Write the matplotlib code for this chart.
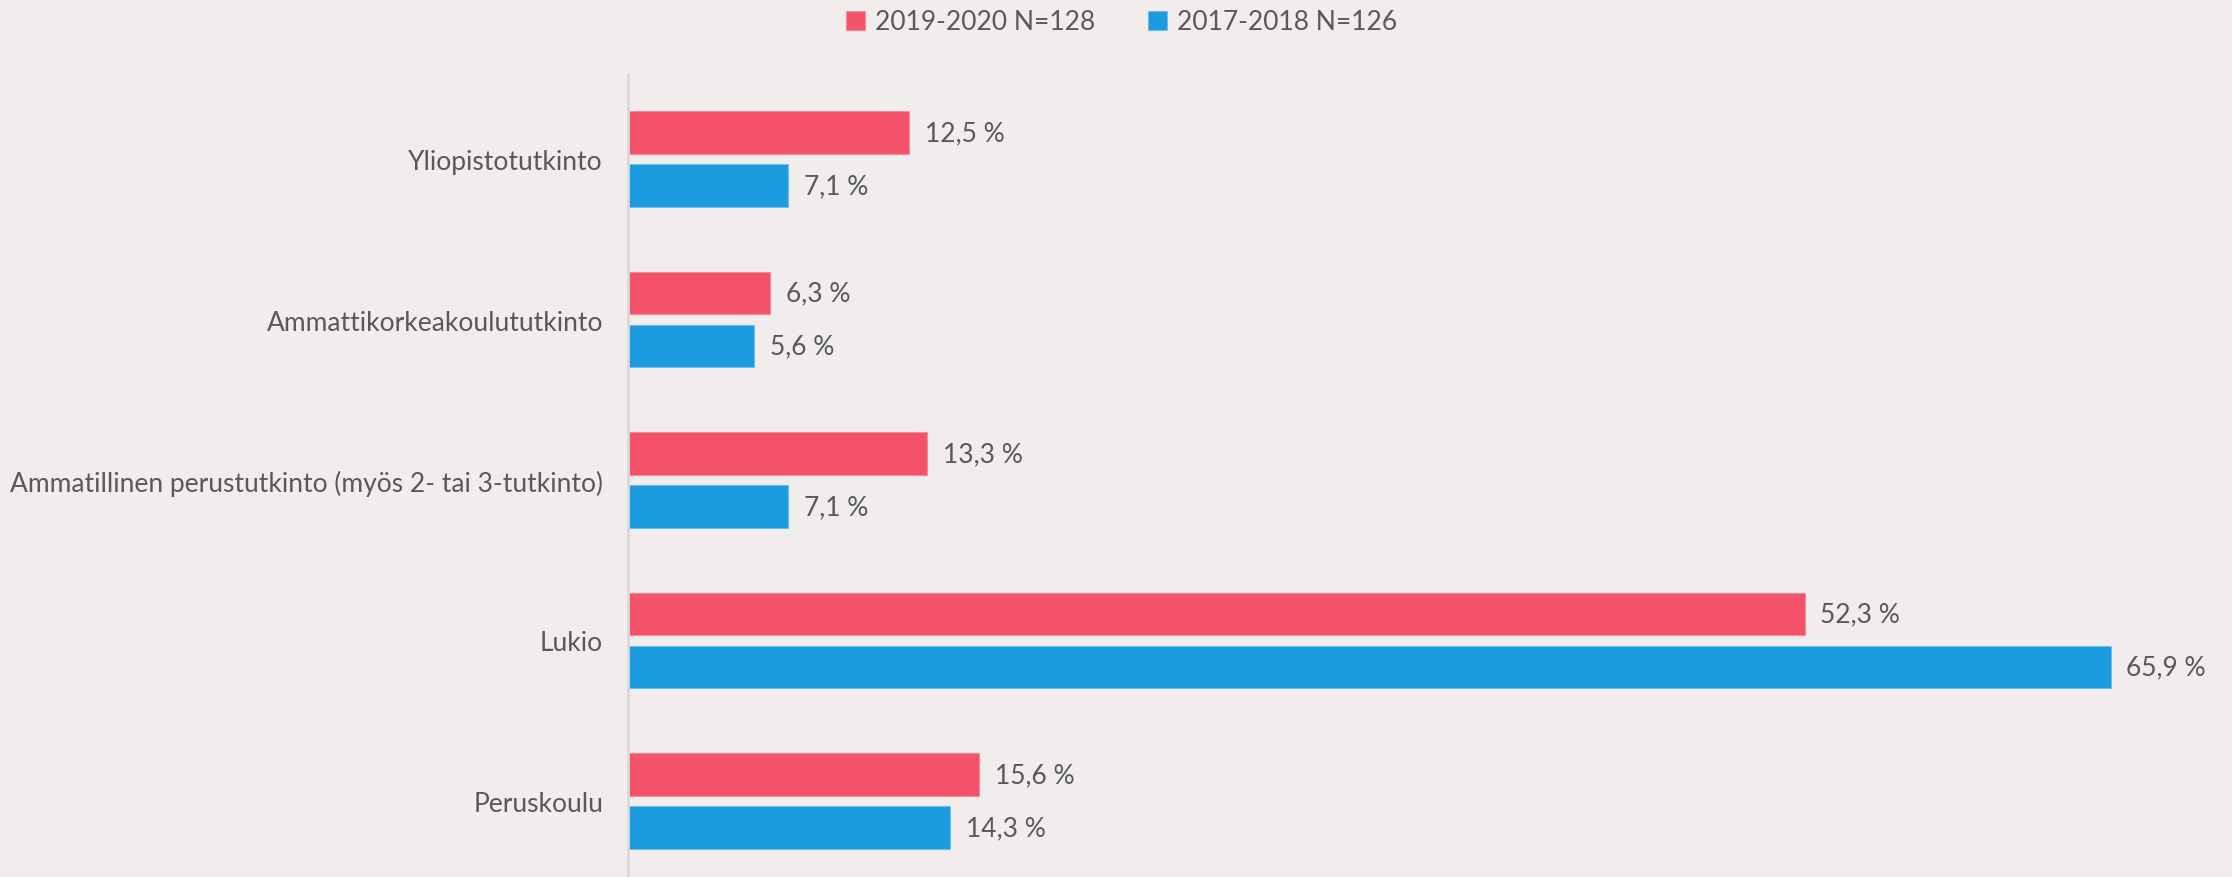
import matplotlib.pyplot as plt
import numpy as np

plt.rcParams['font.family'] = ['Lato', 'DejaVu Sans']

categories = ["Yliopistotutkinto", "Ammattikorkeakoulututkinto",
              "Ammatillinen perustutkinto (myös 2- tai 3-tutkinto)",
              "Lukio", "Peruskoulu"]
vals_2019 = [12.5, 6.3, 13.3, 52.3, 15.6]
vals_2017 = [7.1, 5.6, 7.1, 65.9, 14.3]
labels = ["2019-2020 N=128", "2017-2018 N=126"]

red = "#F4526A"
blue = "#1A9BDF"
bg = "#F0EDEC"
txt = "#595959"

fig = plt.figure(figsize=(22.32, 8.78), dpi=100, facecolor=bg)
ax = fig.add_axes([628 / 2232, 0, 1575 / 2232, (878 - 75) / 878], facecolor=bg)

y = np.arange(len(categories))
h = 0.265
off = 0.165
b1 = ax.barh(y - off, vals_2019, height=h, color=red, edgecolor="#F7889A", linewidth=0.8, label=labels[0])
b2 = ax.barh(y + off, vals_2017, height=h, color=blue, edgecolor="#6CBDE9", linewidth=0.8, label=labels[1])

for bars, vals in ((b1, vals_2019), (b2, vals_2017)):
    for rect, v in zip(bars, vals):
        ax.text(v + 0.7, rect.get_y() + rect.get_height() / 2,
                f"{v:.1f} %".replace(".", ","), va="center", ha="left",
                fontsize=19, color=txt)

ax.set_ylim(4.474, -0.53)
ax.set_xlim(0, 70)
ax.set_yticks(y)
ax.set_yticklabels(categories, fontsize=19, color=txt)
ax.tick_params(axis="y", length=0, pad=18)
ax.set_xticks([])
for s in ["top", "right", "bottom"]:
    ax.spines[s].set_visible(False)
ax.spines["left"].set_color("#D9D9D9")
ax.spines["left"].set_linewidth(2)

fig.legend(handles=[b1, b2], labels=labels, loc="center", bbox_to_anchor=(1122 / 2232, 1 - 23 / 878),
           ncol=2, frameon=False, fontsize=19, labelcolor=txt, handlelength=0.7,
           handleheight=0.7, handletextpad=0.4, columnspacing=2.0)

fig.savefig("out.png", dpi=100, facecolor=bg)
